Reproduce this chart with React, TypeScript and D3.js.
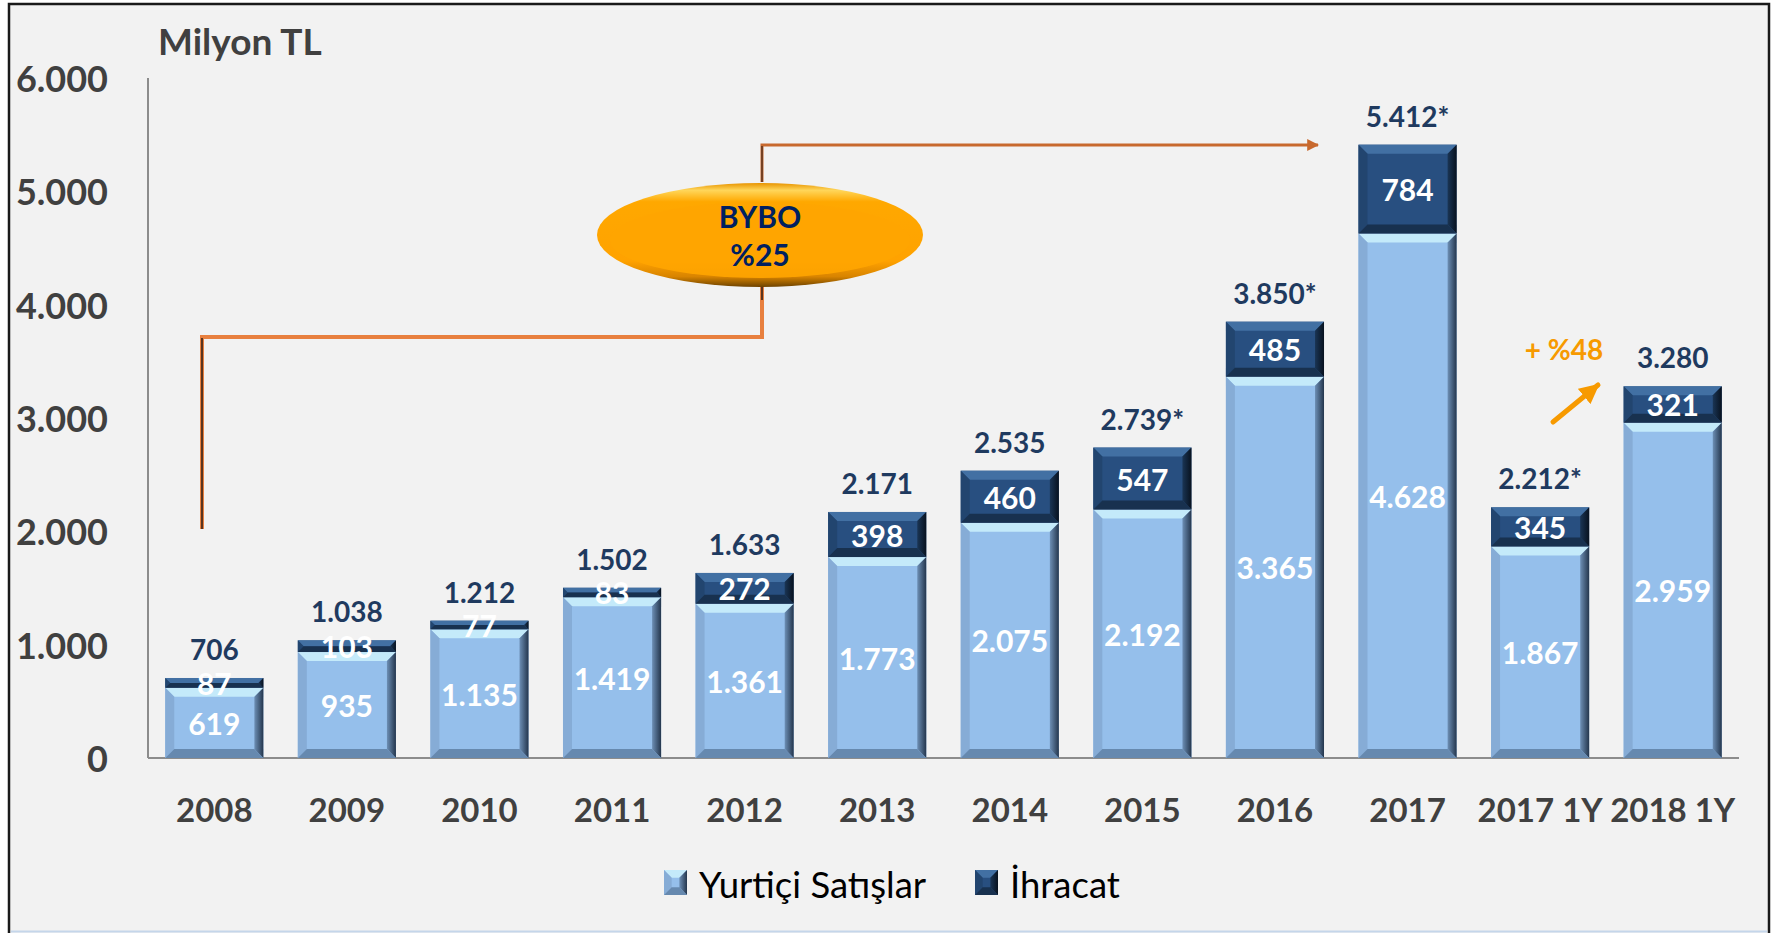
import React from 'react';
import * as d3 from 'd3';

// chart data
const categories = ['2008', '2009', '2010', '2011', '2012', '2013', '2014', '2015', '2016', '2017', '2017 1Y', '2018 1Y'];
const yurtici = [619, 935, 1135, 1419, 1361, 1773, 2075, 2192, 3365, 4628, 1867, 2959];
const ihracat = [87, 103, 77, 83, 272, 398, 460, 547, 485, 784, 345, 321];
const starred = [false, false, false, false, false, false, false, true, true, true, true, false];
const yTicks = [0, 1000, 2000, 3000, 4000, 5000, 6000];
const seriesNames = ['Yurtiçi Satışlar', 'İhracat'];

const W = 1772;
const H = 933;
const FONT = 'Lato, "Open Sans", sans-serif';

const trLocale = d3.formatLocale({ decimal: ',', thousands: '.', grouping: [3], currency: ['', ''] });
const fmt = trLocale.format(',d');

const x = d3.scaleBand<string>().domain(categories).range([148, 1739]).paddingInner(0.26).paddingOuter(0.13);
const y = d3.scaleLinear().domain([0, 6000]).range([758, 78]);

interface BevelProps {
  x: number;
  y: number;
  w: number;
  h: number;
  kind: 'light' | 'dark';
}

// bar segment drawn with a beveled look, like the office chart
const BevelRect = ({ x: bx, y: by, w, h, kind }: BevelProps) => {
  const b = Math.min(9, h / 2, w / 3);
  const light = kind === 'light';
  const base = light ? '#95bfeb' : '#284f80';
  const top = light ? '#c6ecfb' : '#4573a6';
  const right = light ? 'url(#gRightL)' : 'url(#gRightD)';
  const bottom = light ? '#5e7fa4' : '#152b47';
  const left = light ? '#86acd6' : '#22456f';
  const pts = (arr: number[][]) => arr.map((p) => p.join(',')).join(' ');
  return (
    <g>
      <rect x={bx} y={by} width={w} height={h} fill={base} />
      <polygon points={pts([[bx, by], [bx + w, by], [bx + w - b, by + b], [bx + b, by + b]])} fill={top} opacity={light ? 0.95 : 0.9} />
      <polygon points={pts([[bx, by], [bx + b, by + b], [bx + b, by + h - b], [bx, by + h]])} fill={left} />
      <polygon points={pts([[bx + w, by], [bx + w, by + h], [bx + w - b, by + h - b], [bx + w - b, by + b]])} fill={right} />
      <polygon points={pts([[bx, by + h], [bx + b, by + h - b], [bx + w - b, by + h - b], [bx + w, by + h]])} fill={bottom} opacity={0.85} />
    </g>
  );
};

const App = () => {
  const bw = x.bandwidth();
  const totals = yurtici.map((v, i) => v + ihracat[i]);

  return (
    <div style={{ position: 'absolute', left: 0, top: 0, width: W, height: H }}>
      <svg width={W} height={H} viewBox={`0 0 ${W} ${H}`} style={{ display: 'block', fontFamily: FONT }}>
        <defs>
          <linearGradient id="gRightL" x1="0" x2="1" y1="0" y2="0">
            <stop offset="0%" stopColor="#6d8fb5" />
            <stop offset="100%" stopColor="#24364d" />
          </linearGradient>
          <linearGradient id="gRightD" x1="0" x2="1" y1="0" y2="0">
            <stop offset="0%" stopColor="#1a3555" />
            <stop offset="100%" stopColor="#08121f" />
          </linearGradient>
          <linearGradient id="gEllipse" x1="0" x2="0" y1="0" y2="1">
            <stop offset="0%" stopColor="#e89400" />
            <stop offset="7%" stopColor="#ffd65a" />
            <stop offset="18%" stopColor="#ffa800" />
            <stop offset="75%" stopColor="#ffa200" />
            <stop offset="90%" stopColor="#d88400" />
            <stop offset="100%" stopColor="#6e4300" />
          </linearGradient>
          <marker id="arrBrown" viewBox="0 0 10 10" refX="9" refY="5" markerWidth="4" markerHeight="4" orient="auto">
            <path d="M0,0 L10,5 L0,10 z" fill="#c8692e" />
          </marker>
          <marker id="arrOrange" viewBox="0 0 10 10" refX="9" refY="5" markerWidth="4" markerHeight="4" orient="auto">
            <path d="M0,0 L10,5 L0,10 z" fill="#f79a00" />
          </marker>
        </defs>

        {/* frame */}
        <rect x={0} y={0} width={W} height={H} fill="#ffffff" />
        <rect x={9} y={4} width={1760} height={H} fill="#f2f2f2" stroke="#1a1a1a" strokeWidth={2.5} />
        <line x1={11} x2={1767} y1={931.5} y2={931.5} stroke="#c5d6ea" strokeWidth={2} />

        {/* title */}
        <text x={158} y={55} fontSize={37} fontWeight={700} fill="#404040">Milyon TL</text>

        {/* y axis labels */}
        {yTicks.map((t) => (
          <text key={t} x={108} y={y(t)} textAnchor="end" dominantBaseline="central" fontSize={36} fontWeight={700} fill="#404040">
            {fmt(t)}
          </text>
        ))}

        {/* axis lines */}
        <line x1={148} x2={148} y1={78} y2={758} stroke="#8c8c8c" strokeWidth={2} />
        <line x1={148} x2={1739} y1={758} y2={758} stroke="#8c8c8c" strokeWidth={2} />

        {/* bars */}
        {categories.map((c, i) => {
          const x0 = x(c) as number;
          const yTop1 = y(yurtici[i]);
          const yTop2 = y(totals[i]);
          return (
            <g key={c}>
              <BevelRect x={x0} y={yTop1} w={bw} h={y(0) - yTop1} kind="light" />
              <BevelRect x={x0} y={yTop2} w={bw} h={yTop1 - yTop2} kind="dark" />
            </g>
          );
        })}

        {/* segment labels */}
        {categories.map((c, i) => {
          const cx = (x(c) as number) + bw / 2;
          return (
            <g key={c} fontSize={30} fontWeight={700} fill="#ffffff" textAnchor="middle">
              <text x={cx} y={y(yurtici[i] / 2)} dominantBaseline="central">{fmt(yurtici[i])}</text>
              <text x={cx} y={y(yurtici[i] + ihracat[i] / 2)} dominantBaseline="central">{fmt(ihracat[i])}</text>
            </g>
          );
        })}

        {/* total labels */}
        {categories.map((c, i) => (
          <text key={c} x={(x(c) as number) + bw / 2} y={y(totals[i]) - 18} textAnchor="middle" fontSize={28} fontWeight={700} fill="#1f3a5f">
            {fmt(totals[i]) + (starred[i] ? '*' : '')}
          </text>
        ))}

        {/* x labels */}
        {categories.map((c) => (
          <text key={c} x={(x(c) as number) + bw / 2} y={822} textAnchor="middle" fontSize={33} fontWeight={700} fill="#404040">
            {c}
          </text>
        ))}

        {/* BYBO bracket */}
        <g fill="none" strokeLinejoin="miter">
          <path d="M202,529 L202,337 L762,337 L762,287" stroke="#e8803f" strokeWidth={4} />
          <path d="M202,529 L202,338" stroke="#5a3520" strokeWidth={2} />
          <path d="M762,182 L762,145 L1318,145" stroke="#c8692e" strokeWidth={3} markerEnd="url(#arrBrown)" />
          <path d="M762,182 L762,146" stroke="#5a3520" strokeWidth={1.5} />
          <path d="M762,287 L762,300" stroke="#5a3520" strokeWidth={2} />
        </g>
        <ellipse cx={760} cy={235} rx={163} ry={52} fill="url(#gEllipse)" />
        <ellipse cx={760} cy={240} rx={150} ry={38} fill="#ffa500" opacity={0.9} />
        <text x={760} y={228} textAnchor="middle" fontSize={30} fontWeight={700} fill="#002060">BYBO</text>
        <text x={760} y={266} textAnchor="middle" fontSize={30} fontWeight={700} fill="#002060">%25</text>

        {/* growth annotation */}
        <text x={1564} y={360} textAnchor="middle" fontSize={28} fontWeight={700} fill="#f79a00">+ %48</text>
        <line x1={1553} y1={422} x2={1598} y2={385} stroke="#f79a00" strokeWidth={5} strokeLinecap="round" markerEnd="url(#arrOrange)" />

        {/* legend */}
        <g>
          <BevelRect x={664} y={870} w={23} h={25} kind="light" />
          <text x={699} y={898} fontSize={36.5} fill="#000000">{seriesNames[0]}</text>
          <BevelRect x={975} y={870} w={23} h={25} kind="dark" />
          <text x={1010} y={898} fontSize={36.5} fill="#000000">{seriesNames[1]}</text>
        </g>
      </svg>
    </div>
  );
};

export default App;
